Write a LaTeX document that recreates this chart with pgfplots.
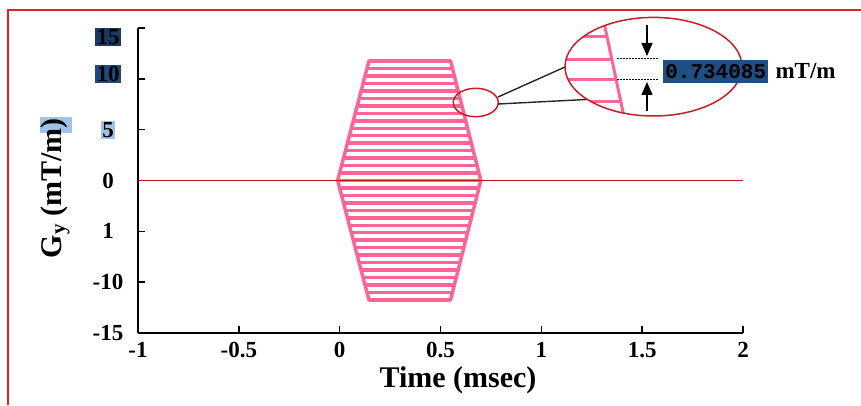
\documentclass[border=0pt]{standalone}
\usepackage{pgfplots}
\pgfplotsset{compat=1.18}
\usepackage{fontspec}
\setmainfont{Liberation Serif}
\newfontfamily\monofont{Liberation Mono}
\usetikzlibrary{arrows.meta}
\definecolor{pinkline}{RGB}{255,100,150}
\definecolor{zeroRed}{RGB}{192,20,30}
\definecolor{ellRed}{RGB}{200,30,40}
\definecolor{frameRed}{RGB}{215,35,35}
\definecolor{darkblueA}{RGB}{25,58,100}
\definecolor{darkblueB}{RGB}{31,73,125}
\definecolor{boxblue}{RGB}{31,78,128}
\definecolor{lightblue}{RGB}{157,195,230}
\newcommand{\hl}[2]{{\setlength{\fboxsep}{1.5pt}\colorbox{#1}{#2}}}
\pgfplotstableread{
x y
0.145 11.745
0.550 11.745
nan nan
0.135 11.011
0.559 11.011
nan nan
0.126 10.277
0.569 10.277
nan nan
0.116 9.543
0.578 9.543
nan nan
0.106 8.809
0.588 8.809
nan nan
0.097 8.075
0.597 8.075
nan nan
0.087 7.341
0.606 7.341
nan nan
0.077 6.607
0.616 6.607
nan nan
0.068 5.873
0.625 5.873
nan nan
0.058 5.139
0.634 5.139
nan nan
0.048 4.405
0.644 4.405
nan nan
0.038 3.670
0.653 3.670
nan nan
0.029 2.936
0.663 2.936
nan nan
0.019 2.202
0.672 2.202
nan nan
0.009 1.468
0.681 1.468
nan nan
0.000 0.734
0.691 0.734
nan nan
-0.010 0
0.700 0
nan nan
0.000 -0.734
0.691 -0.734
nan nan
0.009 -1.468
0.681 -1.468
nan nan
0.019 -2.202
0.672 -2.202
nan nan
0.029 -2.936
0.663 -2.936
nan nan
0.038 -3.670
0.653 -3.670
nan nan
0.048 -4.405
0.644 -4.405
nan nan
0.058 -5.139
0.634 -5.139
nan nan
0.068 -5.873
0.625 -5.873
nan nan
0.077 -6.607
0.616 -6.607
nan nan
0.087 -7.341
0.606 -7.341
nan nan
0.097 -8.075
0.597 -8.075
nan nan
0.106 -8.809
0.588 -8.809
nan nan
0.116 -9.543
0.578 -9.543
nan nan
0.126 -10.277
0.569 -10.277
nan nan
0.135 -11.011
0.559 -11.011
nan nan
0.145 -11.745
0.550 -11.745
}\gradlines
\begin{document}
\begin{tikzpicture}
\path[use as bounding box] (0,0) rectangle (861pt,405pt);
\draw[frameRed, line width=2.4pt] (8pt,0pt) -- (8pt,395pt) -- (861pt,395pt);
\fill[lightblue] (40pt,272pt) rectangle (72pt,288pt);
\begin{axis}[
  at={(138pt,72pt)}, anchor=south west,
  width=605pt, height=305pt, scale only axis,
  xmin=-1, xmax=2, ymin=-15, ymax=15,
  axis x line*=bottom, axis y line*=left,
  axis line style={line width=1.6pt, black},
  tick align=inside, major tick length=7pt,
  tick style={line width=1.4pt, black},
  xtick={-1,-0.5,0,0.5,1,1.5,2},
  xticklabels={-1,-0.5,0,0.5,1,1.5,2},
  ytick={-15,-10,-5,0,5,10,15},
  yticklabels={-15,-10,1,0,\hl{lightblue}{5},\raisebox{5pt}[\height][\depth]{\hl{darkblueB}{10}},\raisebox{-9pt}[\height][\depth]{\hl{darkblueA}{15}}},
  ticklabel style={font=\fontsize{23}{26}\selectfont\bfseries},
  xticklabel style={yshift=-6pt},
  yticklabel style={anchor=center, xshift=-30pt},
  xlabel={Time (msec)},
  ylabel={G\textsubscript{y} (mT/m)},
  label style={font=\fontsize{30}{34}\selectfont\bfseries},
  xlabel style={at={(axis description cs:0.529,-0.155)}, anchor=center},
  ylabel style={at={(axis description cs:-0.137,0.475)}, anchor=center},
  clip=false,
]
\addplot[pinkline, line width=3.5pt, unbounded coords=jump] table {\gradlines};
\addplot[pinkline, line width=3.5pt, line join=round] coordinates {(-0.010,0) (0.145,11.745) (0.550,11.745) (0.700,0) (0.550,-11.745) (0.145,-11.745) (-0.010,0)};
\addplot[zeroRed, line width=1.6pt] coordinates {(-1,0) (2,0)};
\end{axis}
\begin{scope}[yshift=405pt, x=1pt, y=-1pt]
\draw[ellRed, line width=1.5pt] (475.8,102.5) ellipse [x radius=22.5pt, y radius=14.2pt];
\draw[black!85, line width=1.4pt] (498,97) -- (565,67);
\draw[black!85, line width=1.4pt] (498,104) -- (586,99.5);
\fill[white] (653.5,66.7) ellipse [x radius=88.5pt, y radius=49.3pt];
\begin{scope}
\clip (653.5,66.7) ellipse [x radius=88.5pt, y radius=49.3pt];
\draw[pinkline, line width=3pt] (603.5,20) -- (624.7,120);
\draw[pinkline, line width=3pt] (550,37) -- (607.1,37);
\draw[pinkline, line width=3pt] (550,59.5) -- (611.9,59.5);
\draw[pinkline, line width=3pt] (550,80) -- (616.2,80);
\draw[pinkline, line width=3pt] (550,102) -- (620.9,102);
\end{scope}
\draw[ellRed, line width=1.5pt] (653.5,66.7) ellipse [x radius=88.5pt, y radius=49.3pt];
\draw[black, line width=1.3pt, dash pattern=on 1.5pt off 1.5pt] (617,58.5) -- (658,58.5);
\draw[black, line width=1.3pt, dash pattern=on 1.5pt off 1.5pt] (617,79.5) -- (658,79.5);
\draw[black, line width=1.3pt, -{Triangle[width=11pt,length=13pt]}] (647,25) -- (647,56);
\draw[black, line width=1.3pt, -{Triangle[width=11pt,length=13pt]}] (647,111) -- (647,82);
\node[fill=boxblue, inner sep=0pt, minimum width=105pt, minimum height=23pt, anchor=west, font=\monofont\bfseries\fontsize{21}{24}\selectfont, text=black] at (663,71.5) {0.734085};
\node[anchor=west, font=\bfseries\fontsize{23}{26}\selectfont] at (772,71.5) {mT/m};
\end{scope}
\end{tikzpicture}
\end{document}
